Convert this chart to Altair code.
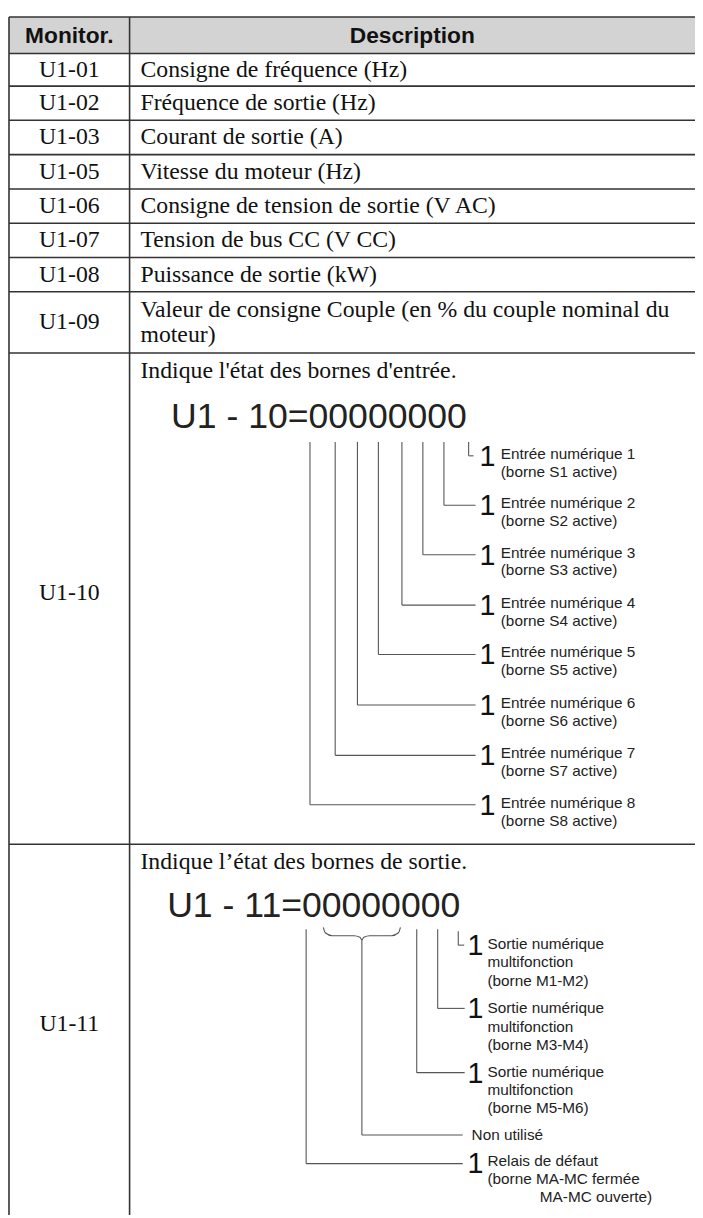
import altair as alt
import pandas as pd

# ---------------- table content ----------------
header_labels = ["Monitor.", "Description"]
monitor_codes = ["U1-01", "U1-02", "U1-03", "U1-05", "U1-06", "U1-07",
                 "U1-08", "U1-09", "U1-10", "U1-11"]
desc_lines = [
    ["Consigne de fréquence (Hz)"],
    ["Fréquence de sortie (Hz)"],
    ["Courant de sortie (A)"],
    ["Vitesse du moteur (Hz)"],
    ["Consigne de tension de sortie (V AC)"],
    ["Tension de bus CC (V CC)"],
    ["Puissance de sortie (kW)"],
    ["Valeur de consigne Couple (en % du couple nominal du", "moteur)"],
    ["Indique l'état des bornes d'entrée."],
    ["Indique l’état des bornes de sortie."],
]
row_lines_y = [10, 47, 80, 114.5, 149.3, 184, 218.7, 253.3, 288, 350, 847]
row_end_y = 1222
table_x = [9, 131, 703]

# ---------------- U1-10 diagram ----------------
in_code = "U1 - 10=00000000"
in_bits = [1, 2, 3, 4, 5, 6, 7, 8]
in_tick_x = [474, 449, 427.7, 406.5, 382.7, 361.5, 339, 313.5]
in_label_y = [452, 502, 552, 603, 653, 704, 755, 805]
in_line1 = [f"Entrée numérique {b}" for b in in_bits]
in_line2 = [f"(borne S{b} active)" for b in in_bits]

# ---------------- U1-11 diagram ----------------
out_code = "U1 - 11=00000000"
out_tick_x = [463.5, 442.7, 421.5, 366, 309.6]
out_label_y = [948, 1013, 1077, 1141, 1167]
out_line_y = [949, 1013, 1078, 1141, 1170]
out_has_one = [True, True, True, False, True]
out_lines = [
    ["Sortie numérique", "multifonction", "(borne M1-M2)"],
    ["Sortie numérique", "multifonction", "(borne M3-M4)"],
    ["Sortie numérique", "multifonction", "(borne M5-M6)"],
    ["Non utilisé"],
    ["Relais de défaut", "(borne MA-MC fermée", "MA-MC ouverte)"],
]
out_indent = [[0, 0, 0], [0, 0, 0], [0, 0, 0], [0], [0, 0, 53]]
brace_x = [327, 405]

# ---------------- geometry helpers ----------------
W, H = 695, 1210
xs = alt.Scale(domain=[8, 8 + W], nice=False, zero=False)
ys = alt.Scale(domain=[8, 8 + H], nice=False, zero=False, reverse=True)

SERIF = "Liberation Serif"
SANS = "Liberation Sans"
TXT = "#111111"
LINE = "#333333"
DLINE = "#555555"


def rules_layer(rows, color, width):
    df = pd.DataFrame(rows, columns=["x", "x2", "y", "y2"])
    return alt.Chart(df).mark_rule(color=color, strokeWidth=width).encode(
        x=alt.X("x:Q", scale=xs, axis=None), x2="x2:Q",
        y=alt.Y("y:Q", scale=ys, axis=None), y2="y2:Q")


def text_layer(rows, font, size, align="left", weight="normal", color=TXT):
    df = pd.DataFrame(rows, columns=["x", "y", "t"])
    return alt.Chart(df).mark_text(align=align, baseline="middle", font=font,
                                   fontSize=size, fontWeight=weight, color=color).encode(
        x=alt.X("x:Q", scale=xs, axis=None),
        y=alt.Y("y:Q", scale=ys, axis=None),
        text="t:N")


# header background
hdr = pd.DataFrame([{"x": table_x[0], "x2": table_x[2], "y": row_lines_y[0], "y2": row_lines_y[1]}])
header_rect = alt.Chart(hdr).mark_rect(color="#d3d3d3").encode(
    x=alt.X("x:Q", scale=xs, axis=None), x2="x2:Q",
    y=alt.Y("y:Q", scale=ys, axis=None), y2="y2:Q")

# table lines
tbl = []
for yv in row_lines_y:
    tbl.append((table_x[0], table_x[2], yv, yv))
for xv in table_x[:2]:
    tbl.append((xv, xv, row_lines_y[0], row_end_y))
table_rules = rules_layer(tbl, LINE, 1.6)

# header text
hy = (row_lines_y[0] + row_lines_y[1]) / 2 + 1
header_text = text_layer([((table_x[0] + table_x[1]) / 2, hy, header_labels[0]),
                          ((table_x[1] + table_x[2]) / 2, hy, header_labels[1])],
                         SANS, 23, align="center", weight="bold")

# row text
bounds = row_lines_y[1:] + [row_end_y]
code_rows, desc_rows = [], []
LH = 25
for i, code in enumerate(monitor_codes):
    top, bot = bounds[i], bounds[i + 1]
    code_rows.append(((table_x[0] + table_x[1]) / 2, (top + bot) / 2 - (6 if i >= 8 else 0), code))
    lines = desc_lines[i]
    if i < 8:
        c = (top + bot) / 2
        start = c - LH * (len(lines) - 1) / 2
    else:
        start = top + 18
    for j, ln in enumerate(lines):
        desc_rows.append((142, start + j * LH, ln))
code_text = text_layer(code_rows, SERIF, 24, align="center")
desc_text = text_layer(desc_rows, SERIF, 24)

# big code strings
big_text = text_layer([(173, 415, in_code), (169, 910, out_code)], SANS, 36, color="#222222")

# ---- U1-10 diagram lines / labels ----
drules, ones, labels = [], [], []
IN_TOP, IN_END = 440, 481
for i, b in enumerate(in_bits):
    ly = in_label_y[i] + 2
    tx = in_tick_x[i]
    if b == 1:
        drules.append((tx, tx, IN_TOP, ly))
        drules.append((tx, tx + 5, ly, ly))
    else:
        drules.append((tx, tx, IN_TOP, ly))
        drules.append((tx, IN_END, ly, ly))
    ones.append((493, ly + 1, "1"))
    labels.append((506.5, in_label_y[i], in_line1[i]))
    labels.append((506.5, in_label_y[i] + 18, in_line2[i]))

# ---- U1-11 diagram lines / labels ----
OUT_TOP, OUT_END = 933, 470
brace_mid = (brace_x[0] + brace_x[1]) / 2
for i, tx in enumerate(out_tick_x):
    ly = out_line_y[i]
    if i == 0:
        drules.append((tx, tx, OUT_TOP + 2, ly))
        drules.append((tx, tx + 6, ly, ly))
    else:
        top = 943 if i == 3 else OUT_TOP
        drules.append((tx, tx, top, ly))
        drules.append((tx, OUT_END - (2 if i >= 3 else 0), ly, ly))
    if out_has_one[i]:
        ones.append((481, ly + 1, "1"))
    tx0 = 493 if out_has_one[i] else 477
    for j, ln in enumerate(out_lines[i]):
        labels.append((tx0 + out_indent[i][j], out_label_y[i] + j * 18.5, ln))

diag_rules = rules_layer(drules, DLINE, 1.1)
ones_text = text_layer(ones, SANS, 29, align="center", color="#111111")
label_text = text_layer(labels, SANS, 15.5, color="#222222")

# brace over the unused bits
bt = 931
bx0, bx1 = brace_x
brace_pts = [(bx0, bt), (bx0 + 2, bt + 5.5), (bx0 + 9, bt + 8.5), (brace_mid - 8, bt + 8.5),
             (brace_mid - 2, bt + 10), (brace_mid, bt + 12.5), (brace_mid + 2, bt + 10),
             (brace_mid + 8, bt + 8.5), (bx1 - 9, bt + 8.5), (bx1 - 2, bt + 5.5), (bx1, bt)]
brace_df = pd.DataFrame([{"x": p[0], "y": p[1], "o": k} for k, p in enumerate(brace_pts)])
brace = alt.Chart(brace_df).mark_line(color=DLINE, strokeWidth=1.1, interpolate="monotone").encode(
    x=alt.X("x:Q", scale=xs, axis=None), y=alt.Y("y:Q", scale=ys, axis=None), order="o:Q")

chart = alt.layer(header_rect, table_rules, header_text, code_text, desc_text, big_text,
                  diag_rules, brace, ones_text, label_text).properties(
    width=W, height=H, padding=0, background="white",
    autosize=alt.AutoSizeParams(type="none")
).configure_view(stroke=None)

chart.save("out.html", embed_options={"renderer": "svg", "actions": False})
